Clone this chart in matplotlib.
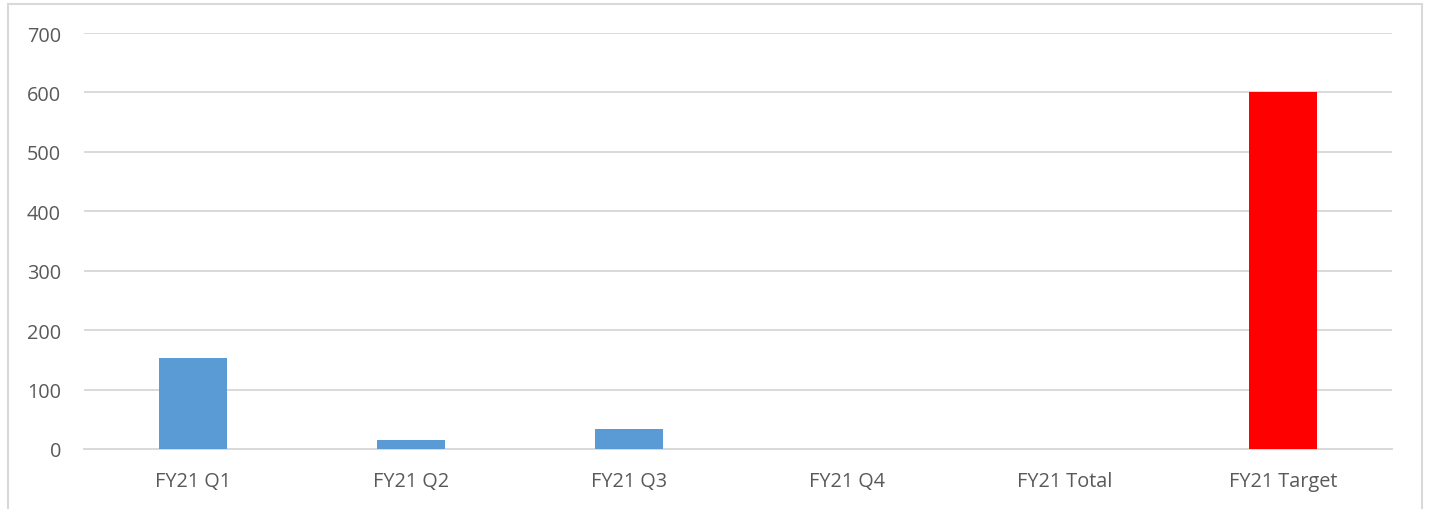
import matplotlib
matplotlib.use('Agg')
import matplotlib.pyplot as plt
import matplotlib.patches as mpatches

plt.rcParams['font.family'] = ['Open Sans', 'DejaVu Sans']

categories = ['FY21 Q1', 'FY21 Q2', 'FY21 Q3', 'FY21 Q4', 'FY21 Total', 'FY21 Target']
values = [153, 15, 34, 0, 0, 600]
colors = ['#5B9BD5', '#5B9BD5', '#5B9BD5', '#5B9BD5', '#5B9BD5', '#FF0000']
yticks = [0, 100, 200, 300, 400, 500, 600, 700]

fig = plt.figure(figsize=(14.29, 5.10), dpi=100)
ax = fig.add_axes([84/1429, 60/510, (1392-84)/1429, (450-34)/510])

x = range(len(categories))
ax.bar(x, values, width=0.31, color=colors, zorder=3)

ax.set_xlim(-0.5, len(categories) - 0.5)
ax.set_ylim(0, 700)
ax.set_yticks(yticks)
ax.set_xticks(list(x))
ax.set_xticklabels(categories)
ax.grid(axis='y', color='#D9D9D9', linewidth=1.4, zorder=0)
for s in ['top', 'right', 'left']:
    ax.spines[s].set_visible(False)
ax.spines['bottom'].set_color('#D9D9D9')
ax.spines['bottom'].set_linewidth(1.4)
ax.tick_params(axis='both', length=0, labelsize=14.3, colors='#595959')
ax.tick_params(axis='y', pad=16.5)
ax.tick_params(axis='x', pad=16)

# chart border
border = mpatches.Rectangle((8/1429, -0.1), (1422-8)/1429, 1.1 - 5/510,
                            transform=fig.transFigure, fill=False,
                            edgecolor='#D9D9D9', linewidth=1.5, clip_on=False)
fig.patches.append(border)

fig.savefig('out.png', dpi=100)
